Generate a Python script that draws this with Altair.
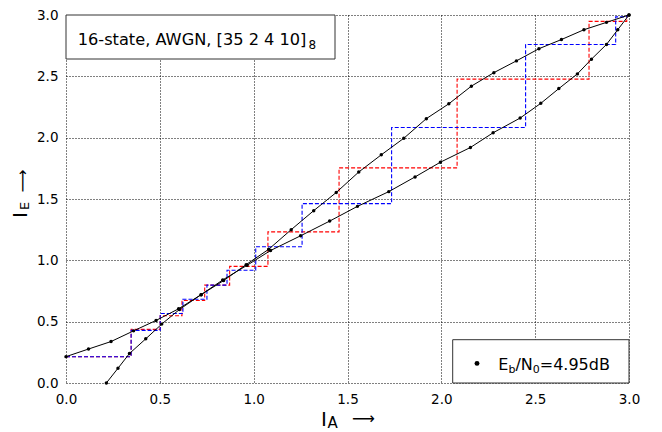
import altair as alt
import pandas as pd

# ---------------- data ----------------
IA = [0.00, 0.12, 0.24, 0.36, 0.48, 0.60, 0.72, 0.84, 0.96, 1.08, 1.20, 1.32, 1.44,
      1.56, 1.68, 1.80, 1.92, 2.04, 2.16, 2.28, 2.40, 2.52, 2.64, 2.76, 2.88, 3.00]
IE = [0.215, 0.277, 0.338, 0.425, 0.510, 0.605, 0.720, 0.835, 0.965, 1.090, 1.250, 1.405, 1.553,
      1.720, 1.860, 1.995, 2.155, 2.276, 2.420, 2.530, 2.626, 2.725, 2.800, 2.880, 2.940, 3.000]

BLUE_X = [0.000, 0.347, 0.347, 0.502, 0.502, 0.623, 0.623, 0.751, 0.751, 0.858, 0.858, 1.011,
          1.011, 1.258, 1.258, 1.735, 1.735, 2.449, 2.449, 2.929, 2.929, 2.988, 2.988]
BLUE_Y = [0.214, 0.214, 0.429, 0.429, 0.566, 0.566, 0.683, 0.683, 0.798, 0.798, 0.919, 0.919,
          1.111, 1.111, 1.462, 1.462, 2.083, 2.083, 2.760, 2.760, 2.985, 2.985, 3.000]

RED_X = [0.000, 0.347, 0.347, 0.502, 0.502, 0.618, 0.618, 0.739, 0.739, 0.872, 0.872, 1.076,
         1.076, 1.455, 1.455, 2.084, 2.084, 2.787, 2.787, 2.988, 2.988]
RED_Y = [0.214, 0.214, 0.437, 0.437, 0.548, 0.548, 0.672, 0.672, 0.798, 0.798, 0.951, 0.951,
         1.232, 1.232, 1.754, 1.754, 2.477, 2.477, 2.948, 2.948, 3.000]

TICKS = [0.0, 0.5, 1.0, 1.5, 2.0, 2.5, 3.0]

TITLE = "16-state, AWGN, [35 2 4 10]"
TITLE_SUB = "8"
LEGEND_PARTS = [("E", False), ("b", True), ("/N", False), ("0", True), ("=4.95dB", False)]

# ---------------- layout ----------------
PAD_L, PAD_T, PAD_R, PAD_B = 58, 7, 22, 48
W, H = 563, 368
FONT = "DejaVu Sans"

def path_df(xs, ys):
    return pd.DataFrame({"x": xs, "y": ys, "i": list(range(len(xs)))})

xscale = alt.Scale(domain=[0, 3], nice=False, zero=False)
yscale = alt.Scale(domain=[0, 3], nice=False, zero=False)
common = dict(values=TICKS, format=".1f", grid=True, gridColor="#000000", gridDash=[1, 2],
              gridWidth=1, gridOpacity=1, domain=False, ticks=False, labelFont=FONT,
              labelFontSize=13.5, labelColor="#000000", title=None, labelFlush=False,
              labelOverlap=False)
xaxis = alt.Axis(labelPadding=9, **common)
yaxis = alt.Axis(labelPadding=8, **common)

def enc(df):
    return alt.Chart(df).encode(
        x=alt.X("x:Q", scale=xscale, axis=xaxis),
        y=alt.Y("y:Q", scale=yscale, axis=yaxis),
        order="i:Q",
    )

def stairs(xs, ys, color):
    return enc(path_df(xs, ys)).mark_line(color=color, strokeWidth=1.1, strokeDash=[4, 2])

def curve(xs, ys):
    base = enc(path_df(xs, ys))
    return [base.mark_line(color="#000000", strokeWidth=1),
            base.mark_circle(color="#000000", size=12, opacity=1)]

one = pd.DataFrame({"a": [0]})

def label(text, x, y, size, angle=0, align="left", baseline="alphabetic"):
    return alt.Chart(one).mark_text(
        text=text, font=FONT, fontSize=size, angle=angle, align=align,
        baseline=baseline, color="#000000"
    ).encode(x=alt.value(x), y=alt.value(y))

def box(x1, x2, y1, y2):
    return alt.Chart(one).mark_rect(fill="#ffffff", stroke="#333333", strokeWidth=1).encode(
        x=alt.value(x1), x2=alt.value(x2), y=alt.value(y1), y2=alt.value(y2))

layers = [stairs(RED_X, RED_Y, "#ff0000"), stairs(BLUE_X, BLUE_Y, "#0000ff")]
layers += curve(IA, IE)
layers += curve(IE, IA)

# title box
layers.append(box(0, 269, 0, 44))
layers.append(label(TITLE, 11.7, 30, 16.2))
layers.append(label(TITLE_SUB, 242.5, 34, 12))

# legend box
layers.append(box(386.7, 563, 324.7, 368))
layers.append(alt.Chart(one).mark_circle(color="#000000", size=24, opacity=1).encode(
    x=alt.value(411), y=alt.value(348.4)))
WIDTHS = {"E": 0.632, "b": 0.635, "/N": 1.085, "0": 0.636, "=4.95dB": 4.385}
xpos = 432.3
for txt, sub in LEGEND_PARTS:
    size = 11 if sub else 16
    layers.append(label(txt, xpos, 358.2 if sub else 354.7, size))
    xpos += WIDTHS[txt] * size

# x axis title
layers.append(label("I", 255, 411, 20))
layers.append(label("A", 261.5, 413, 15))
layers.append(label("\u27f6", 297.5, 403.7, 16, align="center", baseline="middle"))

# y axis title
layers.append(label("I", -39, 200, 20, angle=270, align="center"))
layers.append(label("E", -37.5, 191, 13, angle=270, align="center"))
layers.append(label("\u27f6", -43.3, 166, 16, angle=270, align="center", baseline="middle"))

chart = alt.layer(*layers).properties(
    width=W, height=H,
    padding={"left": PAD_L, "top": PAD_T, "right": PAD_R, "bottom": PAD_B},
    autosize=alt.AutoSizeParams(type="none"),
    background="#ffffff",
).configure_view(strokeWidth=0)

chart.save("out.html", embed_options={"renderer": "svg", "actions": False})
